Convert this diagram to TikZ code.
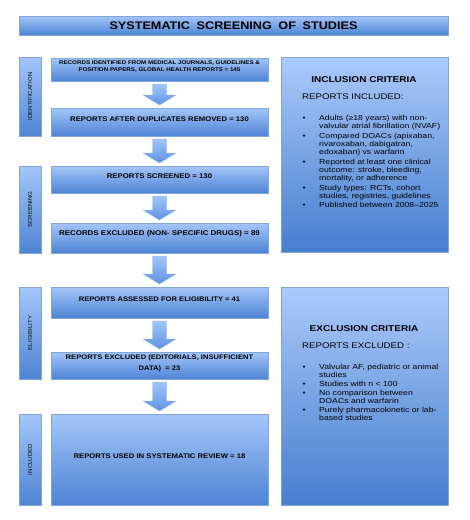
\documentclass[tikz,border=0pt]{standalone}
\usepackage{fontspec}
\setmainfont{Liberation Sans}
\newfontfamily\widefont[FakeStretch=1.15]{Liberation Sans}
\newfontfamily\crfont[FakeStretch=1.18]{Liberation Sans}
\newfontfamily\listfont[FakeStretch=1.19]{Liberation Sans}
\usetikzlibrary{calc,shadows}
\definecolor{btop}{RGB}{164,198,249}
\definecolor{bbot}{RGB}{78,132,212}
\definecolor{bline}{RGB}{130,165,215}
\definecolor{atop}{RGB}{160,198,250}
\definecolor{abot}{RGB}{96,146,226}
\definecolor{rtop}{RGB}{170,202,251}
\definecolor{rbot}{RGB}{70,126,206}
\newcommand\barrow[2]{%
  \path[blockarr] let \p1=($(#1.south)+(0,3)$), \p2=($(#2.north)+(0,-3)$) in
   (\x1-7pt,\y1) -- (\x1+7pt,\y1) -- (\x1+7pt,\y2+10pt) -- (\x1+16.5pt,\y2+10pt)
   -- (\x1,\y2) -- (\x1-16.5pt,\y2+10pt) -- (\x1-7pt,\y2+10pt) -- cycle;}
\begin{document}
\begin{tikzpicture}[x=1pt,y=-1pt,
  box/.style={draw=bline,line width=0.4pt,top color=btop,bottom color=bbot,
    anchor=north west,inner sep=0pt,outer sep=0pt,
    drop shadow={shadow xshift=1pt,shadow yshift=-1.2pt,fill=black!45,opacity=0.45}},
  rbox/.style={box,top color=rtop,bottom color=rbot},
  blockarr/.style={top color=atop,bottom color=abot,draw=atop!80!bbot,line width=0.3pt},
  btext/.style={font=\widefont\fontsize{#1}{7}\bfseries,align=center,inner sep=0pt},
  vtext/.style={font=\widefont\fontsize{5.3}{6}\selectfont,rotate=90,inner sep=0pt},
  ]
\useasboundingbox (0,0) rectangle (470,520);
\fill[white] (0,0) rectangle (470,520);

% title
\node[box,minimum width=429pt,minimum height=19pt] (title) at (19,16) {};
\node[font=\widefont\fontsize{11}{12}\bfseries,inner sep=0pt] (titlet) at (title.center)
  {SYSTEMATIC\hspace{0.6em}SCREENING\hspace{0.6em}OF\hspace{0.6em}STUDIES};

% stage labels
\node[box,minimum width=22pt,minimum height=79pt] (l1) at (19,57) {};
\node[box,minimum width=22pt,minimum height=87pt] (l2) at (19,166) {};
\node[box,minimum width=22pt,minimum height=92pt] (l3) at (19,287) {};
\node[box,minimum width=22pt,minimum height=91pt] (l4) at (19,414) {};
\node[vtext] (l1t) at (l1.center) {IDENTIFICATION};
\node[vtext] (l2t) at (l2.center) {SCREENING};
\node[vtext] (l3t) at (l3.center) {ELIGIBILITY};
\node[vtext] (l4t) at (l4.center) {INCLUDED};

% main boxes
\node[box,minimum width=217pt,minimum height=23pt] (b1) at (51,58) {};
\node[box,minimum width=217pt,minimum height=28pt] (b2) at (51,108) {};
\node[box,minimum width=217pt,minimum height=27pt] (b3) at (51,166) {};
\node[box,minimum width=217pt,minimum height=30pt] (b4) at (51,223) {};
\node[box,minimum width=217pt,minimum height=31pt] (b5) at (51,287) {};
\node[box,minimum width=217pt,minimum height=27pt] (b6) at (51,352) {};
\node[box,minimum width=217pt,minimum height=91pt] (b7) at (51,414) {};

\node[btext=5.4] (t1) at ($(b1.center)+(0,-3)$)
  {RECORDS IDENTIFIED FROM MEDICAL JOURNALS, GUIDELINES \&\\POSITION PAPERS, GLOBAL HEALTH REPORTS = 145};
\node[btext=6.7] (t2) at ($(b2.center)+(0,-3)$) {REPORTS AFTER DUPLICATES REMOVED = 130};
\node[btext=6.8] (t3) at ($(b3.center)+(0,-3)$) {REPORTS SCREENED = 130};
\node[btext=6.9] (t4) at ($(b4.center)+(0,-4)$) {RECORDS EXCLUDED (NON- SPECIFIC DRUGS) = 89};
\node[btext=6.6] (t5) at ($(b5.center)+(0,-3.5)$) {REPORTS ASSESSED FOR ELIGIBILITY = 41};
\node[font=\widefont\fontsize{6.6}{11}\bfseries,align=center,inner sep=0pt] (t6) at ($(b6.center)+(0,-2)$)
  {REPORTS EXCLUDED (EDITORIALS, INSUFFICIENT\\DATA)\ \ = 23};
\node[btext=6.7] (t7) at ($(b7.center)+(0,-3)$) {REPORTS USED IN SYSTEMATIC REVIEW = 18};

% arrows
\barrow{b1}{b2}
\barrow{b2}{b3}
\barrow{b3}{b4}
\barrow{b4}{b5}
\barrow{b5}{b6}
\barrow{b6}{b7}

% criteria boxes
\node[rbox,minimum width=167pt,minimum height=195pt] (inc) at (281,57) {};
\node[rbox,minimum width=167pt,minimum height=218pt] (exc) at (281,287) {};

\node[font=\crfont\fontsize{8.5}{10}\bfseries,inner sep=0pt] (inch) at (364,80) {INCLUSION CRITERIA};
\node[font=\crfont\fontsize{8.2}{10}\selectfont,anchor=west,inner sep=0pt] (incs) at (302,97) {REPORTS INCLUDED:};
\node[anchor=north west,inner sep=0pt,font=\listfont\fontsize{7.3}{8}\selectfont] (incl) at (302.5,114.3) {%
\begin{tabular}{@{}l@{}l@{}}
\makebox[16.5pt][l]{\textbullet} & Adults (≥18 years) with non-\\
 & valvular atrial fibrillation (NVAF)\\[2pt]
\textbullet & Compared DOACs (apixaban,\\
 & rivaroxaban, dabigatran,\\
 & edoxaban) vs warfarin\\[2pt]
\textbullet & Reported at least one clinical\\
 & outcome: stroke, bleeding,\\
 & mortality, or adherence\\[2pt]
\textbullet & Study types: RCTs, cohort\\
 & studies, registries, guidelines\\[1pt]
\textbullet & Published between 2008–2025
\end{tabular}};

\node[font=\crfont\fontsize{8.5}{10}\bfseries,inner sep=0pt] (exch) at (364,329) {EXCLUSION CRITERIA};
\node[font=\crfont\fontsize{8.2}{10}\selectfont,anchor=west,inner sep=0pt] (excs) at (302,346) {REPORTS EXCLUDED :};
\node[anchor=north west,inner sep=0pt,font=\listfont\fontsize{7.3}{8}\selectfont] (excl) at (302.5,363.3) {%
\begin{tabular}{@{}l@{}l@{}}
\makebox[16.5pt][l]{\textbullet} & Valvular AF, pediatric or animal\\
 & studies\\[1pt]
\textbullet & Studies with n < 100\\[1pt]
\textbullet & No comparison between\\
 & DOACs and warfarin\\[1pt]
\textbullet & Purely pharmacokinetic or lab-\\
 & based studies
\end{tabular}};
\end{tikzpicture}
\end{document}
